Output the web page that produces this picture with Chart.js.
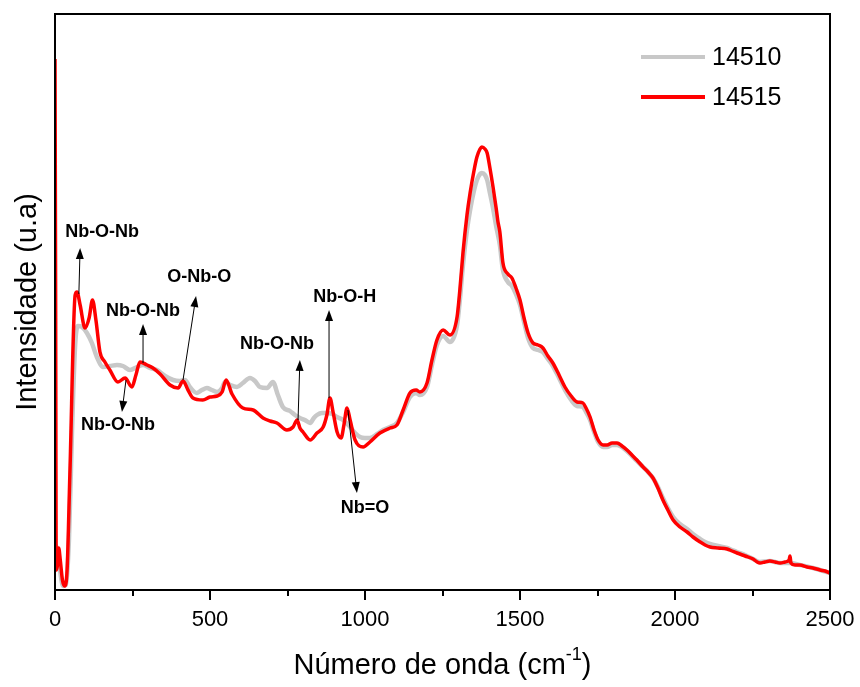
<!DOCTYPE html>
<html>
<head>
<meta charset="utf-8">
<script src="https://cdn.jsdelivr.net/npm/chart.js@4.4.0/dist/chart.umd.min.js"></script>
<style>
    html, body { margin: 0; padding: 0; background: #fff; }
    #wrap { width: 860px; height: 687px; }
</style>
</head>
<body>
<div id="wrap"><canvas id="ramanChart" width="860" height="687"></canvas></div>
<script>
// Spectrum data (wavenumber in cm-1, intensity in arbitrary units)
const seriesNames = ["14510", "14515"];

const grayWavenumber = [0, 6, 16, 26, 35, 45, 55, 65, 74, 87, 103, 119, 135, 155, 177, 200, 219, 242, 265, 284,
    306, 329, 355, 381, 403, 419, 435, 458, 474, 490, 506, 523, 539, 548, 565, 587, 606, 629, 645, 661,
    684, 703, 719, 735, 758, 774, 790, 806, 823, 835, 845, 861, 877, 894, 910, 929, 952, 968, 984, 1000,
    1016, 1039, 1058, 1081, 1103, 1123, 1145, 1165, 1177, 1200, 1216, 1232, 1252, 1274, 1297, 1306, 1316, 1329, 1339, 1352,
    1361, 1371, 1377, 1387, 1394, 1403, 1413, 1423, 1429, 1435, 1445, 1461, 1474, 1487, 1500, 1513, 1526, 1542, 1558, 1574,
    1590, 1606, 1626, 1645, 1665, 1684, 1703, 1713, 1726, 1739, 1752, 1768, 1781, 1797, 1813, 1829, 1845, 1861, 1877, 1897,
    1913, 1929, 1945, 1961, 1977, 1994, 2016, 2039, 2058, 2081, 2097, 2113, 2139, 2168, 2184, 2200, 2226, 2252, 2274, 2306,
    2339, 2371, 2403, 2445, 2500];
const grayIntensity = [45, 42, 20, 4, 5, 50, 160, 245, 264, 263, 257, 247, 233, 223, 224, 225, 224, 220, 223, 225,
    222, 220, 214, 210, 209, 210, 203, 197, 200, 202, 200, 198, 202, 208, 205, 203, 207, 212, 209, 203,
    202, 208, 195, 183, 179, 175, 172, 170, 167, 172, 175, 177, 177, 176, 173, 170, 163, 157, 153, 152,
    152, 156, 160, 163, 167, 178, 193, 197, 195, 203, 225, 245, 254, 248, 265, 290, 325, 360, 380, 400,
    410, 416, 417, 415, 410, 397, 382, 364, 355, 345, 320, 308, 304, 296, 285, 268, 252, 242, 240, 238,
    231, 224, 212, 200, 190, 184, 183, 178, 170, 158, 148, 143, 143, 145, 145, 143, 139, 134, 129, 123,
    118, 112, 103, 92, 82, 73, 66, 61, 56, 51, 48, 46, 44, 42, 40, 38, 35, 31, 28, 29,
    27, 27, 25, 22, 17];

const redWavenumber = [0, 2, 4, 8, 12, 17, 24, 31, 39, 48, 65, 71, 81, 97, 110, 121, 132, 145, 161, 177,
    203, 226, 248, 261, 274, 297, 316, 339, 371, 397, 413, 429, 445, 477, 500, 523, 539, 552, 571, 606,
    639, 671, 694, 716, 748, 768, 781, 790, 800, 823, 845, 865, 877, 887, 897, 910, 923, 932, 942, 952,
    968, 994, 1016, 1048, 1081, 1103, 1123, 1145, 1165, 1177, 1200, 1216, 1232, 1252, 1274, 1297, 1306, 1316, 1329, 1339,
    1352, 1361, 1371, 1377, 1387, 1394, 1403, 1413, 1423, 1426, 1429, 1435, 1445, 1461, 1474, 1487, 1500, 1513, 1526, 1542,
    1558, 1574, 1590, 1606, 1626, 1645, 1665, 1684, 1703, 1713, 1726, 1739, 1752, 1768, 1781, 1797, 1813, 1829, 1845, 1861,
    1877, 1897, 1913, 1929, 1945, 1961, 1977, 1994, 2016, 2039, 2058, 2081, 2097, 2113, 2139, 2168, 2184, 2200, 2226, 2252,
    2265, 2274, 2290, 2306, 2323, 2339, 2355, 2368, 2371, 2374, 2387, 2403, 2426, 2445, 2468, 2484, 2500];
const redIntensity = [531, 300, 20, 25, 42, 30, 10, 4, 20, 116, 295, 298, 285, 262, 272, 290, 270, 238, 228, 220,
    208, 212, 203, 215, 228, 225, 222, 216, 205, 202, 209, 200, 192, 190, 193, 194, 198, 210, 196, 182,
    180, 172, 169, 167, 160, 163, 170, 162, 158, 150, 157, 163, 175, 192, 178, 158, 152, 165, 182, 170,
    150, 143, 148, 157, 162, 165, 180, 197, 200, 198, 207, 230, 250, 260, 255, 273, 300, 337, 375, 397,
    420, 433, 441, 443, 441, 437, 422, 403, 382, 375, 368, 358, 327, 316, 312, 302, 290, 272, 257, 247,
    245, 242, 234, 227, 215, 203, 194, 188, 187, 182, 173, 160, 150, 145, 145, 147, 147, 144, 140, 135,
    130, 123, 118, 112, 102, 90, 80, 70, 63, 58, 53, 48, 45, 43, 42, 41, 39, 37, 34, 31,
    28, 27, 28, 29, 28, 27, 28, 30, 34, 27, 25, 25, 23, 22, 20, 19, 17];

const xTickValues = [0, 500, 1000, 1500, 2000, 2500];

// Band assignments: label centre, arrow start and arrow tip (wavenumber, intensity)
const bandNotes = [
    { text: "Nb-O-Nb", at: [152, 358], from: [77, 296], to: [81, 342] },
    { text: "Nb-O-Nb", at: [284, 279], from: [284, 227], to: [284, 266] },
    { text: "O-Nb-O", at: [465, 313], from: [413, 210], to: [455, 294] },
    { text: "Nb-O-Nb", at: [203, 165], from: [229, 210], to: [216, 178] },
    { text: "Nb-O-Nb", at: [716, 246], from: [784, 170], to: [790, 230] },
    { text: "Nb-O-H", at: [935, 293], from: [884, 192], to: [884, 280] },
    { text: "Nb=O", at: [1000, 82], from: [945, 180], to: [974, 97] }
];

function toPoints(xs, ys) {
    return xs.map((x, i) => ({ x: x, y: ys[i] }));
}

function drawArrow(ctx, x1, y1, x2, y2) {
    const ang = Math.atan2(y2 - y1, x2 - x1);
    const len = 11, half = 4;
    ctx.beginPath();
    ctx.moveTo(x1, y1);
    ctx.lineTo(x2 - Math.cos(ang) * len * 0.8, y2 - Math.sin(ang) * len * 0.8);
    ctx.stroke();
    ctx.beginPath();
    ctx.moveTo(x2, y2);
    ctx.lineTo(x2 - Math.cos(ang) * len - Math.sin(ang) * half, y2 - Math.sin(ang) * len + Math.cos(ang) * half);
    ctx.lineTo(x2 - Math.cos(ang) * len + Math.sin(ang) * half, y2 - Math.sin(ang) * len - Math.cos(ang) * half);
    ctx.closePath();
    ctx.fill();
}

// Frame, ticks, axis titles, legend and band labels
const decorPlugin = {
    id: "decor",
    afterDraw(chart) {
        const { ctx, chartArea: a, scales } = chart;
        const xs = scales.x, ys = scales.y;
        ctx.save();
        ctx.strokeStyle = "#000";
        ctx.fillStyle = "#000";

        ctx.lineWidth = 2;
        ctx.strokeRect(a.left, a.top, a.right - a.left, a.bottom - a.top);
        for (let v = 0; v <= 2500; v += 250) {
            const px = Math.round(xs.getPixelForValue(v));
            ctx.beginPath();
            ctx.moveTo(px, a.bottom);
            ctx.lineTo(px, a.bottom + (v % 500 === 0 ? 10 : 6));
            ctx.stroke();
        }

        // y title
        ctx.font = "29px 'Liberation Sans', Arial, sans-serif";
        ctx.textAlign = "center";
        ctx.textBaseline = "middle";
        ctx.save();
        ctx.translate(28, (a.top + a.bottom) / 2);
        ctx.rotate(-Math.PI / 2);
        ctx.fillText("Intensidade (u.a)", 0, 0);
        ctx.restore();

        // x title with superscript
        const main = "Número de onda (cm", sup = "-1", close = ")";
        ctx.font = "29px 'Liberation Sans', Arial, sans-serif";
        const w1 = ctx.measureText(main).width, w3 = ctx.measureText(close).width;
        ctx.font = "18px 'Liberation Sans', Arial, sans-serif";
        const w2 = ctx.measureText(sup).width;
        let tx = (a.left + a.right) / 2 - (w1 + w2 + w3) / 2;
        const ty = 666;
        ctx.textAlign = "left";
        ctx.textBaseline = "middle";
        ctx.font = "29px 'Liberation Sans', Arial, sans-serif";
        ctx.fillText(main, tx, ty);
        ctx.font = "18px 'Liberation Sans', Arial, sans-serif";
        ctx.fillText(sup, tx + w1, ty - 11);
        ctx.font = "29px 'Liberation Sans', Arial, sans-serif";
        ctx.fillText(close, tx + w1 + w2, ty);

        // legend
        const colors = ["#c8c8c8", "#ff0000"];
        ctx.font = "25px 'Liberation Sans', Arial, sans-serif";
        seriesNames.forEach((name, i) => {
            const ly = a.top + 43 + i * 40;
            ctx.strokeStyle = colors[i];
            ctx.lineWidth = 4;
            ctx.beginPath();
            ctx.moveTo(a.right - 189, ly);
            ctx.lineTo(a.right - 125, ly);
            ctx.stroke();
            ctx.fillStyle = "#000";
            ctx.fillText(name, a.right - 118, ly + 1);
        });

        // band labels with arrows
        ctx.strokeStyle = "#000";
        ctx.fillStyle = "#000";
        ctx.lineWidth = 1;
        ctx.font = "bold 18px 'Liberation Sans', Arial, sans-serif";
        ctx.textAlign = "center";
        bandNotes.forEach(n => {
            ctx.fillText(n.text, xs.getPixelForValue(n.at[0]), ys.getPixelForValue(n.at[1]));
            drawArrow(ctx,
                xs.getPixelForValue(n.from[0]), ys.getPixelForValue(n.from[1]),
                xs.getPixelForValue(n.to[0]), ys.getPixelForValue(n.to[1]));
        });
        ctx.restore();
    }
};

const chart = new Chart(document.getElementById("ramanChart").getContext("2d"), {
    type: "line",
    data: {
        datasets: [
            {
                label: seriesNames[0],
                data: toPoints(grayWavenumber, grayIntensity),
                borderColor: "#c8c8c8",
                borderWidth: 4.5,
                pointRadius: 0,
                cubicInterpolationMode: "monotone",
                borderJoinStyle: "round",
                order: 2
            },
            {
                label: seriesNames[1],
                data: toPoints(redWavenumber, redIntensity),
                borderColor: "#ff0000",
                borderWidth: 3.5,
                pointRadius: 0,
                cubicInterpolationMode: "monotone",
                borderJoinStyle: "round",
                order: 1
            }
        ]
    },
    options: {
        responsive: false,
        animation: false,
        devicePixelRatio: 1,
        layout: { padding: { top: 14, right: 30, left: 0, bottom: 0 } },
        plugins: {
            legend: { display: false },
            tooltip: { enabled: false }
        },
        scales: {
            x: {
                type: "linear",
                min: 0,
                max: 2500,
                grid: { display: false, drawTicks: false },
                border: { display: false },
                afterBuildTicks: scale => { scale.ticks = xTickValues.map(v => ({ value: v })); },
                afterFit: scale => {
                    scale.height = 97;
                    scale.paddingLeft = 0;
                    scale.paddingRight = 0;
                },
                ticks: {
                    color: "#000",
                    padding: 17,
                    maxRotation: 0,
                    callback: v => String(v),
                    font: { family: "'Liberation Sans', Arial, sans-serif", size: 22 }
                }
            },
            y: {
                min: 0,
                max: 576,
                grid: { display: false, drawTicks: false },
                border: { display: false },
                ticks: { display: false },
                afterFit: scale => { scale.width = 55; }
            }
        }
    },
    plugins: [decorPlugin]
});
</script>
</body>
</html>
